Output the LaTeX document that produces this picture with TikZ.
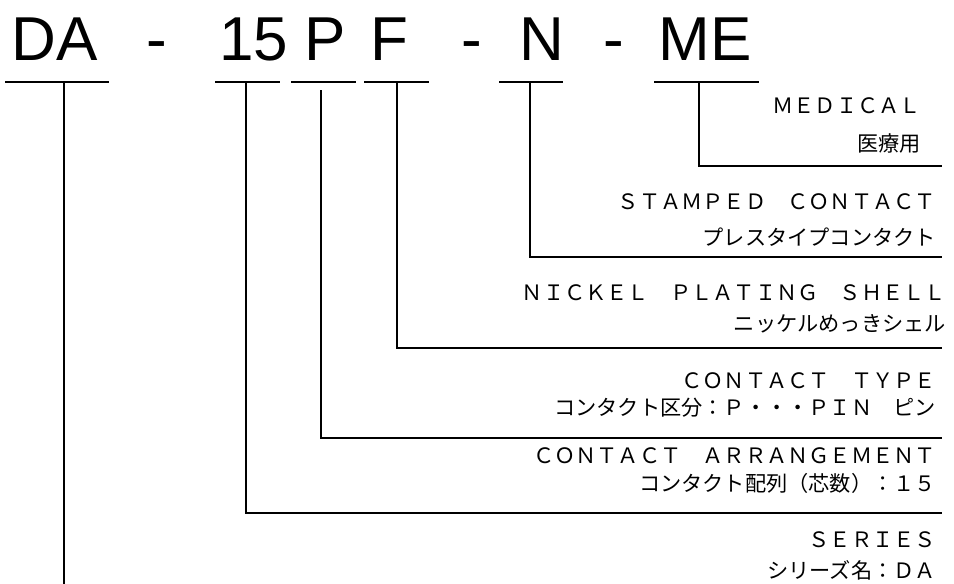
\documentclass[tikz,border=0pt]{standalone}
\usepackage{fontspec}
\setmainfont{Liberation Sans}
\newfontfamily\jpfont{Noto Sans CJK JP}

\begin{document}
\begin{tikzpicture}[x=1pt,y=-1pt,
    ttl/.style={anchor=base,inner sep=0pt,font=\fontsize{62}{64}\selectfont},
    lbl/.style={anchor=base east,inner sep=0pt,font=\jpfont\fontsize{21.2}{22}\selectfont},
    uline/.style={line width=2pt},
    conn/.style={line width=2.7pt}]
\useasboundingbox (0,0) rectangle (954,584);
% part number
\node[ttl] (tDA) at (54.5,60) {DA};
\node[ttl] (tdash1) at (156.5,60) {-};
\node[ttl] (t15) at (254,60) {15};
\node[ttl] (tP) at (325,60) {P};
\node[ttl] (tF) at (389,60) {F};
\node[ttl] (tdash2) at (471.5,60) {-};
\node[ttl] (tN) at (541.5,60) {N};
\node[ttl] (tdash3) at (614,60) {-};
\node[ttl] (tME) at (705,60) {ME};
\foreach \a/\b in {5/109,215/280,291/356,364/429,499/563,654/759}
    \draw[uline] (\a,82) -- (\b,82);
% legend texts
\foreach \txt/\xr/\yb [count=\i] in {
    ＭＥＤＩＣＡＬ/921/113, 医療用/921/151,
    ＳＴＡＭＰＥＤ　ＣＯＮＴＡＣＴ/936/209, プレスタイプコンタクト/936/245,
    ＮＩＣＫＥＬ　ＰＬＡＴＩＮＧ　ＳＨＥＬＬ/946/300, ニッケルめっきシェル/946/331,
    ＣＯＮＴＡＣＴ　ＴＹＰＥ/936/388, コンタクト区分：Ｐ・・・ＰＩＮ　ピン/936/415,
    ＣＯＮＴＡＣＴ　ＡＲＲＡＮＧＥＭＥＮＴ/936/463, コンタクト配列（芯数）：１５/936/491,
    ＳＥＲＩＥＳ/936/547, シリーズ名：ＤＡ/936/578}
    \node[lbl] (lbl\i) at (\xr,\yb) {\txt};
% leader lines
\coordinate (uDA) at (64,82);
\coordinate (u15) at (246,82);
\coordinate (uP) at (321,90);
\coordinate (uF) at (397,82);
\coordinate (uN) at (530,82);
\coordinate (uME) at (699,82);
\coordinate (eDA) at (64,584);
\coordinate (e15) at (942,513);
\coordinate (eP) at (942,438);
\coordinate (eF) at (942,348);
\coordinate (eN) at (942,257);
\coordinate (eME) at (942,166);
\draw[conn] (uDA) -- (eDA);
\foreach \k in {15,F,N,ME}
    \draw[conn] (u\k) |- (e\k);
\draw[conn,line width=1.8pt] (uP) |- (eP);
\end{tikzpicture}
\end{document}
